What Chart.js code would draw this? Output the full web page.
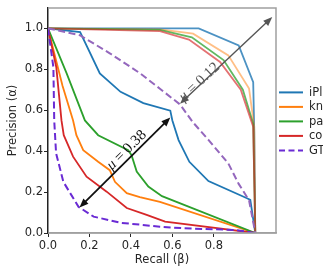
<!DOCTYPE html>
<html lang="en">
<head>
<meta charset="UTF-8">
<title>Precision / Recall</title>
<script src="https://cdn.jsdelivr.net/npm/chart.js"></script>
<style>
    html, body { margin: 0; padding: 0; background: #fff; }
    .chart-box { position: relative; width: 323px; height: 275px; }
</style>
</head>
<body>
<div class="chart-box"><canvas id="prChart"></canvas></div>
<script>
// values, recall on x, precision on y
const legendLabels = ['iPl', 'kn', 'pa', 'co', 'GT'];

// lower family (mu = 0.38)
const iplLowRecall     = [0, 0.155, 0.25, 0.35, 0.46, 0.59, 0.60, 0.63, 0.682, 0.774, 0.96, 0.976, 1.0];
const iplLowPrecision  = [1, 0.982, 0.78, 0.69, 0.635, 0.598, 0.55, 0.454, 0.348, 0.254, 0.17, 0.162, 0.0];
const knLowRecall      = [0, 0.07, 0.121, 0.137, 0.17, 0.242, 0.298, 0.323, 0.38, 0.443, 0.54, 1.0];
const knLowPrecision   = [1, 0.72, 0.55, 0.478, 0.405, 0.348, 0.307, 0.25, 0.195, 0.175, 0.152, 0.0];
const paLowRecall      = [0, 0.09, 0.178, 0.242, 0.387, 0.403, 0.428, 0.484, 0.55, 1.0];
const paLowPrecision   = [1, 0.78, 0.55, 0.478, 0.405, 0.38, 0.30, 0.227, 0.18, 0.0];
const coLowRecall      = [0, 0.04, 0.065, 0.076, 0.121, 0.186, 0.283, 0.38, 0.476, 0.565, 1.0];
const coLowPrecision   = [1, 0.81, 0.55, 0.478, 0.373, 0.275, 0.202, 0.122, 0.089, 0.056, 0.0];
const gtLowRecall      = [0, 0.026, 0.03, 0.039, 0.074, 0.147, 0.22, 0.35, 0.54, 0.655, 0.9, 1.0];
const gtLowPrecision   = [1, 0.81, 0.55, 0.39, 0.25, 0.128, 0.08, 0.05, 0.031, 0.023, 0.015, 0.0];

// upper family (mu = 0.12)
const iplHighRecall    = [0, 0.54, 0.727, 0.92, 0.99, 0.995, 1.0];
const iplHighPrecision = [1, 1.0, 1.0, 0.917, 0.737, 0.50, 0.0];
const knHighRecall     = [0, 0.54, 0.70, 0.87, 0.97, 0.995, 1.0];
const knHighPrecision  = [1, 0.995, 0.974, 0.868, 0.706, 0.52, 0.0];
const paHighRecall     = [0, 0.54, 0.694, 0.847, 0.94, 0.99, 1.0];
const paHighPrecision  = [1, 0.993, 0.956, 0.845, 0.70, 0.535, 0.0];
const coHighRecall     = [0, 0.54, 0.68, 0.83, 0.93, 0.99, 1.0];
const coHighPrecision  = [1, 0.987, 0.945, 0.836, 0.70, 0.52, 0.0];
const gtHighRecall     = [0, 0.155, 0.30, 0.445, 0.54, 0.637, 0.70, 0.775, 0.87, 0.92, 0.97, 0.985, 1.0];
const gtHighPrecision  = [1, 0.966, 0.877, 0.78, 0.705, 0.628, 0.54, 0.454, 0.34, 0.24, 0.16, 0.08, 0.0];

// double arrows with their labels, in data units
const muLabels = ['0.38', '0.12'];
const muFrom   = [[0.152, 0.125], [0.637, 0.632]];
const muTo     = [[0.59, 0.564], [1.082, 1.055]];
const muTextAt = [[0.379, 0.405], [0.73, 0.737]];

const BLUE = '#1f77b4', ORANGE = '#ff7f0e', GREEN = '#2ca02c', RED = '#d62728';
const GT_DARK = '#6a2bd4', GT_LIGHT = '#9467bd';
const FONT = '"DejaVu Sans", sans-serif';

function pts(xs, ys) {
    return xs.map((x, i) => ({ x: x, y: ys[i] }));
}

function curve(label, xs, ys, color, order, dashed) {
    return {
        label: label,
        data: pts(xs, ys),
        borderColor: color,
        borderWidth: dashed ? 2 : 1.8,
        borderDash: dashed ? [7, 3.5] : [],
        showLine: true,
        pointRadius: 0,
        fill: false,
        tension: 0,
        order: order
    };
}

function fade(hex, a) {
    const n = parseInt(hex.slice(1), 16);
    return 'rgba(' + (n >> 16) + ',' + ((n >> 8) & 255) + ',' + (n & 255) + ',' + a + ')';
}

// spines, arrows, mu labels and the (cut off) legend
const extras = {
    id: 'extras',
    afterDraw(chart) {
        const ctx = chart.ctx;
        const a = chart.chartArea;
        const xs = chart.scales.x, ys = chart.scales.y;

        ctx.save();
        ctx.strokeStyle = '#a0a0a0';
        ctx.lineWidth = 1.5;
        ctx.beginPath();
        ctx.moveTo(a.left, a.top);
        ctx.lineTo(a.right, a.top);
        ctx.lineTo(a.right, a.bottom);
        ctx.lineTo(a.left, a.bottom);
        ctx.stroke();
        ctx.restore();

        const arrowColors = ['#111', '#555'];
        muLabels.forEach((lab, i) => {
            const x1 = xs.getPixelForValue(muFrom[i][0]), y1 = ys.getPixelForValue(muFrom[i][1]);
            const x2 = xs.getPixelForValue(muTo[i][0]), y2 = ys.getPixelForValue(muTo[i][1]);
            const ang = Math.atan2(y2 - y1, x2 - x1);
            const head = 9, half = 3.6;
            const ux = Math.cos(ang), uy = Math.sin(ang);
            ctx.save();
            ctx.strokeStyle = arrowColors[i];
            ctx.fillStyle = arrowColors[i];
            ctx.lineWidth = i === 0 ? 1.8 : 1.4;
            ctx.beginPath();
            ctx.moveTo(x1 + ux * head * 0.8, y1 + uy * head * 0.8);
            ctx.lineTo(x2 - ux * head * 0.8, y2 - uy * head * 0.8);
            ctx.stroke();
            [[x1, y1, 1], [x2, y2, -1]].forEach(([tx, ty, s]) => {
                const bx = tx + s * ux * head, by = ty + s * uy * head;
                ctx.beginPath();
                ctx.moveTo(tx, ty);
                ctx.lineTo(bx - uy * half, by + ux * half);
                ctx.lineTo(bx + uy * half, by - ux * half);
                ctx.closePath();
                ctx.fill();
            });

            // label, rotated along the arrow
            const cx = xs.getPixelForValue(muTextAt[i][0]), cy = ys.getPixelForValue(muTextAt[i][1]);
            const muFont = 'italic 15px "Liberation Serif", serif';
            const restFont = '15px "Liberation Serif", serif';
            const rest = ' = ' + lab;
            ctx.font = muFont;
            const w1 = ctx.measureText('μ').width;
            ctx.font = restFont;
            const w2 = ctx.measureText(rest).width;
            ctx.translate(cx, cy);
            ctx.rotate(ang);
            ctx.textBaseline = 'middle';
            ctx.textAlign = 'left';
            ctx.font = muFont;
            ctx.fillText('μ', -(w1 + w2) / 2, 0);
            ctx.font = restFont;
            ctx.fillText(rest, -(w1 + w2) / 2 + w1, 0);
            ctx.restore();
        });

        // legend, partly outside the canvas like the reference
        const legColors = [BLUE, ORANGE, GREEN, RED, GT_DARK];
        const lx = a.right + 3, top = a.top + 84.5, step = 14.5;
        ctx.save();
        ctx.font = '11.5px ' + FONT;
        ctx.textBaseline = 'middle';
        ctx.fillStyle = '#262626';
        legendLabels.forEach((lab, i) => {
            const y = top + i * step;
            ctx.strokeStyle = legColors[i];
            ctx.lineWidth = 2;
            ctx.setLineDash(i === 4 ? [6, 3.5] : []);
            ctx.beginPath();
            ctx.moveTo(lx, y);
            ctx.lineTo(lx + 24, y);
            ctx.stroke();
            ctx.fillText(lab, lx + 30, y + 0.5);
        });
        ctx.restore();
    }
};

function axis(title, fitKey, fitSize, titlePad) {
    return {
        type: 'linear',
        min: 0,
        max: 1.1,
        ticks: {
            stepSize: 0.2,
            color: '#262626',
            font: { family: FONT, size: 11.5 },
            padding: fitKey === 'width' ? 1 : 2,
            callback: v => v.toFixed(1)
        },
        afterBuildTicks: s => { s.ticks = s.ticks.filter(t => t.value <= 1.0001); },
        afterFit: s => { s[fitKey] = fitSize; },
        grid: { drawOnChartArea: false, drawTicks: true, tickLength: 4, tickColor: '#262626', tickWidth: 1 },
        border: { display: true, color: fitKey === 'width' ? '#222' : '#a0a0a0', width: 1.5 },
        title: {
            display: true,
            text: title,
            color: '#262626',
            font: { family: FONT, size: 11.5 },
            padding: titlePad
        }
    };
}

new Chart(document.getElementById('prChart'), {
    type: 'scatter',
    data: {
        datasets: [
            curve('iPl', iplLowRecall, iplLowPrecision, BLUE, 9),
            curve('iPl', iplHighRecall, iplHighPrecision, fade(BLUE, 0.8), 8),
            curve('kn', knLowRecall, knLowPrecision, ORANGE, 7),
            curve('kn', knHighRecall, knHighPrecision, fade(ORANGE, 0.5), 6),
            curve('pa', paLowRecall, paLowPrecision, GREEN, 5),
            curve('pa', paHighRecall, paHighPrecision, fade(GREEN, 0.75), 4),
            curve('co', coLowRecall, coLowPrecision, RED, 3),
            curve('co', coHighRecall, coHighPrecision, fade(RED, 0.65), 2),
            curve('GT', gtLowRecall, gtLowPrecision, GT_DARK, 1, true),
            curve('GT', gtHighRecall, gtHighPrecision, GT_LIGHT, 0, true)
        ]
    },
    options: {
        responsive: true,
        maintainAspectRatio: false,
        animation: false,
        layout: { padding: { left: 0, right: 47, top: 7, bottom: 0 } },
        plugins: { legend: { display: false }, tooltip: { enabled: false } },
        scales: {
            x: axis('Recall (β)', 'height', 42, { top: 0, bottom: 8 }),
            y: axis('Precision (α)', 'width', 48, { top: 6, bottom: 0 })
        }
    },
    plugins: [extras]
});
</script>
</body>
</html>
